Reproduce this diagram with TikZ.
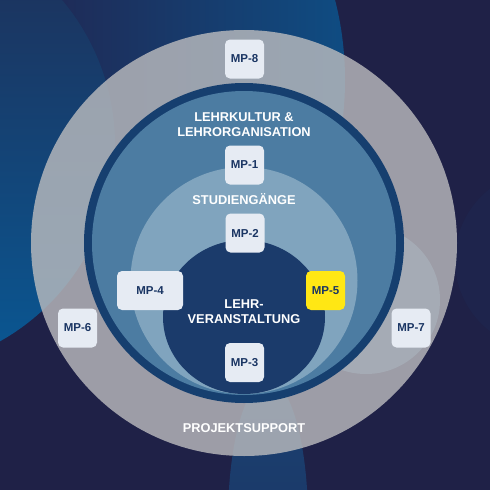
\documentclass[tikz,border=0pt]{standalone}
\usepackage{fontspec}
\setmainfont{Liberation Sans}
\usepackage{tikz}

\definecolor{bgnavy}{HTML}{1F2147}
\definecolor{blobtop}{HTML}{1F2E56}
\definecolor{blobbot}{HTML}{095894}
\definecolor{topl}{HTML}{1F2A56}
\definecolor{topr}{HTML}{0F4C82}
\definecolor{bandtop}{HTML}{1A4272}
\definecolor{bandbot}{HTML}{1C305F}
\definecolor{ringgray}{HTML}{BDBDBF}
\definecolor{bubble}{HTML}{BED7E1}
\definecolor{ringnavy}{HTML}{163F6F}
\definecolor{midblue}{HTML}{4C7CA2}
\definecolor{lightblue}{HTML}{80A4BE}
\definecolor{innernavy}{HTML}{1B3B6B}
\definecolor{boxgray}{HTML}{E6EBF3}
\definecolor{boxtext}{HTML}{1A3563}
\definecolor{mpyellow}{HTML}{FFE714}

\begin{document}
\begin{tikzpicture}[x=1pt,y=-1pt,
  mpbox/.style={rectangle,rounded corners=5pt,fill=boxgray,text=boxtext,inner sep=0pt,
    minimum width=39pt,minimum height=39pt,font=\fontsize{11.5}{13}\selectfont\bfseries},
  lbl/.style={text=white,align=center,inner sep=0pt,font=\fontsize{12.8}{15}\selectfont\bfseries}]
\useasboundingbox (0,0) rectangle (490,490);

% background
\fill [bgnavy] (0,0) rectangle (490,490);
\begin{scope}
\clip (0,0) rectangle (490,490);
\shade [left color=topl,right color=topr] (195,80) ellipse (150 and 223);
\shade [top color=blobtop,bottom color=blobbot] (-110,145) circle (225);
\shade [top color=bandtop,bottom color=bandbot] (268,520) ellipse (40 and 140);
\fill [bgnavy!92!topr] (545,260) circle (90);
\end{scope}

% rings
\fill [ringgray,opacity=0.8] (244,243) circle (213);
\fill [bubble,opacity=0.25] (366,300) circle (74);
\fill [ringnavy] (244,243) circle (160);
\fill [midblue] (244,243) circle (152);
\fill [lightblue] (244,280.5) circle (113.5);
\fill [innernavy] (244,317) ellipse (81 and 77);

\node [lbl] (lk) at(244,124.8){LEHRKULTUR \&\\LEHRORGANISATION};
\node [lbl,anchor=base] (sg) at(244,204.6){STUDIENGÄNGE};
\node [lbl] (lv) at(244,311.5){LEHR-\\VERANSTALTUNG};
\node [lbl,anchor=base] (ps) at(244,432.6){PROJEKTSUPPORT};

\node [mpbox] (mp8) at(244.5,59){MP-8};
\node [mpbox] (mp1) at(244.5,165){MP-1};
\node [mpbox] (mp2) at(245,233){MP-2};
\node [mpbox] (mp3) at(244.5,362.5){MP-3};
\node [mpbox,minimum width=66pt] (mp4) at(150,290.5){MP-4};
\node [mpbox,fill=mpyellow] (mp5) at(325.5,290.5){MP-5};
\node [mpbox] (mp6) at(77.5,328){MP-6};
\node [mpbox] (mp7) at(411,328){MP-7};
\end{tikzpicture}
\end{document}
